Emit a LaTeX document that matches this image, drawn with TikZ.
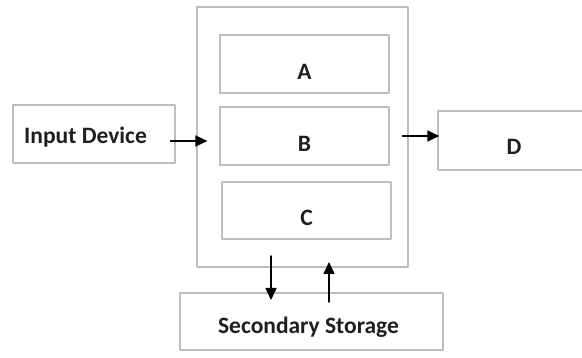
\documentclass[tikz,border=0pt]{standalone}
\usepackage{fontspec}
\setmainfont{Carlito}
\usepackage{tikz}
\usetikzlibrary{arrows.meta,
                calc,
                positioning,}
\definecolor{bbbbbb}{rgb}{0.74,0.74,0.74}

\begin{document}
\begin{tikzpicture}[line cap=round,line join=round,x=1pt,y=-1pt,
  box/.style={draw=bbbbbb,line width=1.2pt,inner sep=0pt},
  lbl/.style={font=\fontsize{23.5}{28}\selectfont\bfseries,text=black!88},
  flow/.style={-{Triangle[length=12pt,width=11pt]},line width=1.5pt,color=black}]
\useasboundingbox (0,0) rectangle (582,358);
\clip (0,0) rectangle (582,358);
%\draw[help lines] (0,0) grid[step=50] (582,358);
\node[box,minimum width=211,minimum height=260] (cpu) at (302.5,137) {};
\node[box,minimum width=169,minimum height=58,label={[lbl,yshift=-7.5pt]center:A}] (A) at (304.5,64) {};
\node[box,minimum width=169,minimum height=58,label={[lbl,yshift=-8pt]center:B}] (B) at (304.5,136) {};
\node[box,minimum width=169,minimum height=57,label={[lbl,yshift=-7pt]center:C}] (C) at (306.5,210.5) {};
\node[box,minimum width=162,minimum height=58,label={[lbl,xshift=-8.5pt,yshift=-3.5pt]center:Input Device}] (input) at (94,134) {};
\node[box,minimum width=152,minimum height=59,label={[lbl,yshift=-6pt]center:D}] (D) at (514,140.5) {};
\node[box,minimum width=263,minimum height=57,label={[lbl,xshift=-3pt,yshift=-5.5pt]center:Secondary Storage}] (storage) at (311.5,321.5) {};
\coordinate (inend) at ($(B.west)+(-12,5)$);
\coordinate (outstart) at ($(B.east)+(13,0)$);
\coordinate (down1) at (271,256);
\coordinate (down2) at (271,300);
\coordinate (up1) at (329,302);
\coordinate (up2) at (329,262);
\draw[flow] ($(input.east)+(-5,7)$) -- (inend);
\draw[flow] (outstart) -- ($(D.west)+(2,-4.5)$);
\draw[flow] (down1) -- (down2);
\draw[flow] (up1) -- (up2);
\end{tikzpicture}
\end{document}
